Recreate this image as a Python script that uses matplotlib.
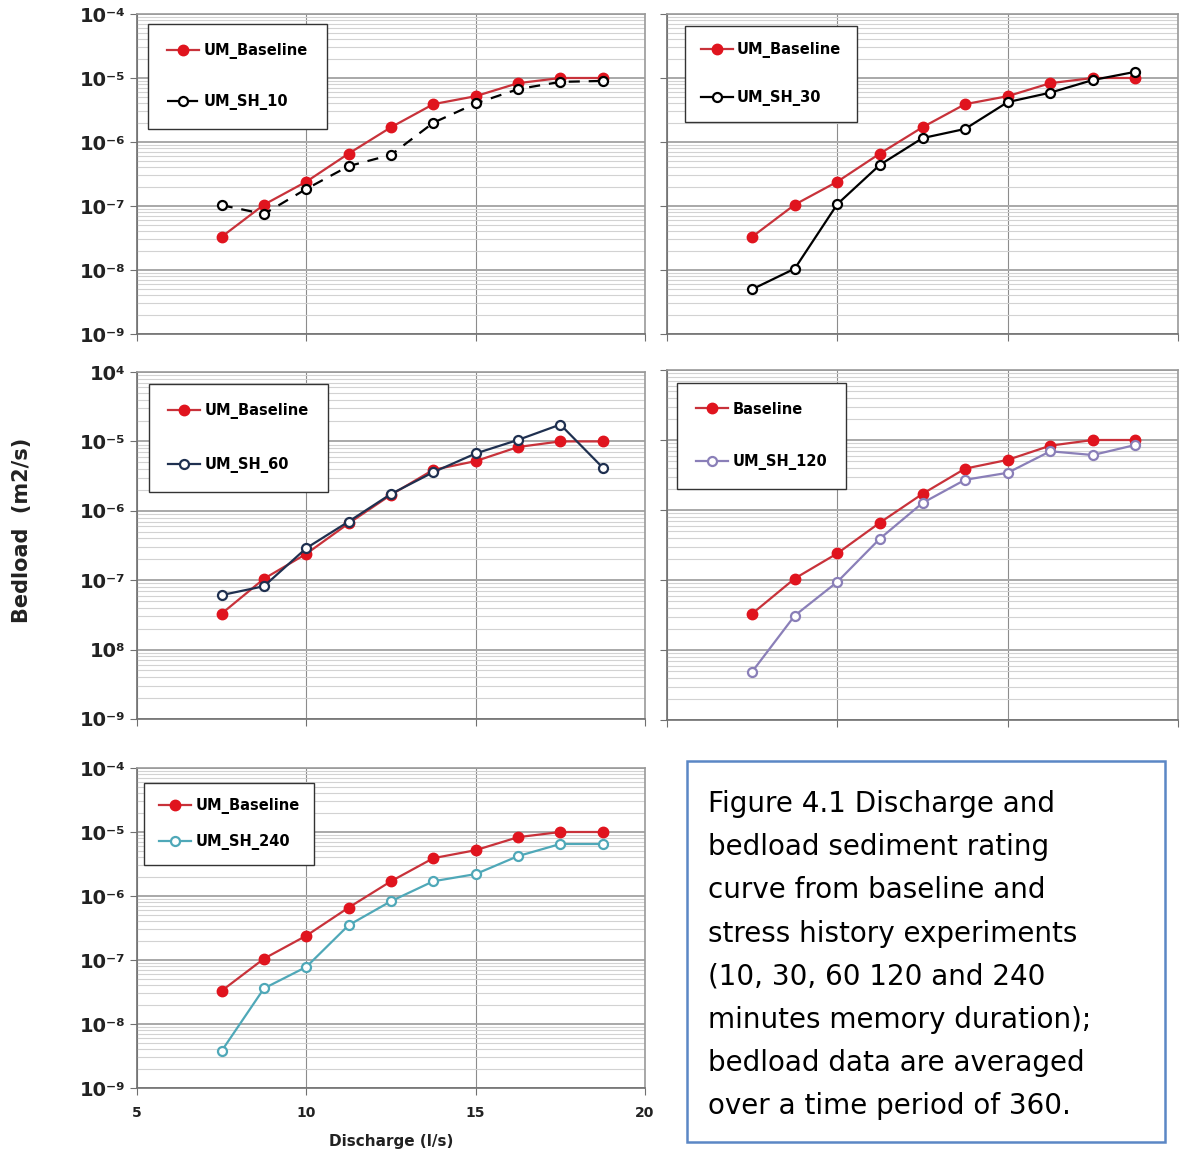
import matplotlib
matplotlib.use('Agg')
import matplotlib.pyplot as plt
from matplotlib.patches import Rectangle
from matplotlib.ticker import LogLocator, NullFormatter, FixedLocator, NullLocator

plt.rcParams['font.family'] = ['DejaVu Sans']

# discharge steps (l/s)
discharge = [7.5, 8.75, 10, 11.25, 12.5, 13.75, 15, 16.25, 17.5, 18.75]

# bedload rates (m2/s)
baseline = [3.3e-8, 1.05e-7, 2.4e-7, 6.6e-7, 1.7e-6, 3.9e-6, 5.2e-6, 8.3e-6, 1.0e-5, 1.0e-5]
sh_10 = [1.03e-7, 7.5e-8, 1.85e-7, 4.2e-7, 6.3e-7, 2.0e-6, 4.0e-6, 6.7e-6, 8.7e-6, 9.0e-6]
sh_30 = [5.0e-9, 1.05e-8, 1.07e-7, 4.4e-7, 1.15e-6, 1.6e-6, 4.2e-6, 5.9e-6, 9.3e-6, 1.25e-5]
sh_60 = [6.1e-8, 8.2e-8, 2.9e-7, 7.0e-7, 1.75e-6, 3.6e-6, 6.7e-6, 1.05e-5, 1.75e-5, 4.2e-6]
sh_120 = [4.9e-9, 3.1e-8, 9.4e-8, 3.9e-7, 1.26e-6, 2.7e-6, 3.4e-6, 6.9e-6, 6.1e-6, 8.5e-6]
sh_240 = [3.8e-9, 3.6e-8, 7.8e-8, 3.5e-7, 8.3e-7, 1.7e-6, 2.2e-6, 4.2e-6, 6.5e-6, 6.5e-6]

ytick_vals = [1e-4, 1e-5, 1e-6, 1e-7, 1e-8, 1e-9]
ylabels_std = ['10⁻⁴', '10⁻⁵', '10⁻⁶', '10⁻⁷', '10⁻⁸', '10⁻⁹']
ylabels_mid = ['10⁴', '10⁻⁵', '10⁻⁶', '10⁻⁷', '10⁸', '10⁻⁹']
xticks = [5, 10, 15, 20]

RED = '#E0141E'
RED_LINE = '#C8323A'

W, H = 1182, 1151
fig = plt.figure(figsize=(W / 100, H / 100), dpi=100)


def px_axes(l, r, t, b):
    return fig.add_axes([l / W, 1 - b / H, (r - l) / W, (b - t) / H])


def setup(ax, ylabels=None, show_x=False):
    ax.set_yscale('log')
    ax.set_ylim(1e-9, 1e-4)
    ax.set_xlim(5, 20)
    ax.yaxis.set_major_locator(FixedLocator(ytick_vals))
    ax.yaxis.set_minor_locator(LogLocator(base=10, subs=range(2, 10), numticks=20))
    ax.yaxis.set_minor_formatter(NullFormatter())
    ax.xaxis.set_major_locator(FixedLocator(xticks))
    ax.xaxis.set_minor_locator(NullLocator())
    ax.grid(True, which='minor', axis='y', color='#D2D2D2', lw=0.8)
    ax.grid(True, which='major', axis='y', color='#A8A8A8', lw=1.4)
    ax.grid(True, which='major', axis='x', color='#8C8C8C', lw=0.8)
    ax.set_axisbelow(True)
    for s in ax.spines.values():
        s.set_color('#9A9A9A')
        s.set_linewidth(1.2)
    ax.spines['left'].set_color('#707070')
    ax.spines['bottom'].set_color('#707070')
    ax.tick_params(axis='y', which='major', direction='out', length=5, color='#707070')
    ax.tick_params(axis='y', which='minor', length=0)
    ax.tick_params(axis='x', direction='out', length=5, color='#707070', pad=8)
    if ylabels is not None:
        ax.set_yticklabels(ylabels, fontsize=14, fontweight='bold', color='#222222')
    else:
        ax.set_yticklabels([])
    if show_x:
        ax.set_xticklabels([str(v) for v in xticks], fontsize=10, fontweight='bold', color='#222222')
    else:
        ax.set_xticklabels([])


def draw_base(ax, label='UM_Baseline'):
    ax.plot(discharge, baseline, '-o', color=RED_LINE, lw=1.6, ms=7.5,
            mfc=RED, mec=RED, label=label, zorder=3)


def draw_sh(ax, vals, label, color, ls='-'):
    ax.plot(discharge, vals, marker='o', ls=ls, color=color, lw=1.6, ms=6.5,
            mfc='white', mec=color, mew=1.6, label=label, zorder=4)


def legend(ax, anchor, spacing, pad=0.9):
    lg = ax.legend(loc='upper left', bbox_to_anchor=anchor, fancybox=False,
                   framealpha=1, edgecolor='#333333', borderpad=pad,
                   labelspacing=spacing, handlelength=2.2, handletextpad=0.3,
                   prop={'size': 10.5, 'weight': 'bold'})
    lg.get_frame().set_linewidth(1.0)
    return lg


# top left: 10 min memory
ax1 = px_axes(137, 645, 14, 334)
setup(ax1, ylabels_std)
draw_base(ax1)
draw_sh(ax1, sh_10, 'UM_SH_10', 'black', ls=(0, (5, 4)))
legend(ax1, (0.008, 0.99), 2.4, pad=1.3)

# top right: 30 min memory
ax2 = px_axes(667, 1178, 14, 334)
setup(ax2)
draw_base(ax2)
draw_sh(ax2, sh_30, 'UM_SH_30', 'black')
legend(ax2, (0.02, 0.985), 2.2, pad=1.1)

# middle left: 60 min memory
ax3 = px_axes(137, 645, 372, 719)
setup(ax3, ylabels_mid)
draw_base(ax3)
draw_sh(ax3, sh_60, 'UM_SH_60', '#1F3050')
legend(ax3, (0.01, 0.985), 2.6, pad=1.3)

# middle right: 120 min memory
ax4 = px_axes(667, 1178, 370, 720)
setup(ax4)
draw_base(ax4, label='Baseline')
draw_sh(ax4, sh_120, 'UM_SH_120', '#8A7FB8')
legend(ax4, (0.005, 0.985), 2.6, pad=1.3)

# bottom left: 240 min memory
ax5 = px_axes(137, 645, 768, 1088)
setup(ax5, ylabels_std, show_x=True)
draw_base(ax5)
draw_sh(ax5, sh_240, 'UM_SH_240', '#4FA8B8')
legend(ax5, (0.0, 0.975), 1.4, pad=1.0)
ax5.set_xlabel('Discharge (l/s)', fontsize=11, fontweight='bold', color='#222222', labelpad=10)

fig.text(22 / W, 1 - 530 / H, 'Bedload  (m2/s)', rotation=90, ha='center', va='center',
         fontsize=15, fontweight='bold', color='#222222')

# caption box
fig.patches.append(Rectangle((687 / W, 1 - 1142 / H), (1165 - 687) / W, (1142 - 761) / H,
                             transform=fig.transFigure, fill=False, edgecolor='#5B87C5', lw=1.8))
caption = ('Figure 4.1 Discharge and\n'
           'bedload sediment rating\n'
           'curve from baseline and\n'
           'stress history experiments\n'
           '(10, 30, 60 120 and 240\n'
           'minutes memory duration);\n'
           'bedload data are averaged\n'
           'over a time period of 360.')
fig.text(708 / W, 1 - 790 / H, caption, ha='left', va='top', fontsize=20,
         linespacing=1.69, color='black')

fig.savefig('out.png', dpi=100)
